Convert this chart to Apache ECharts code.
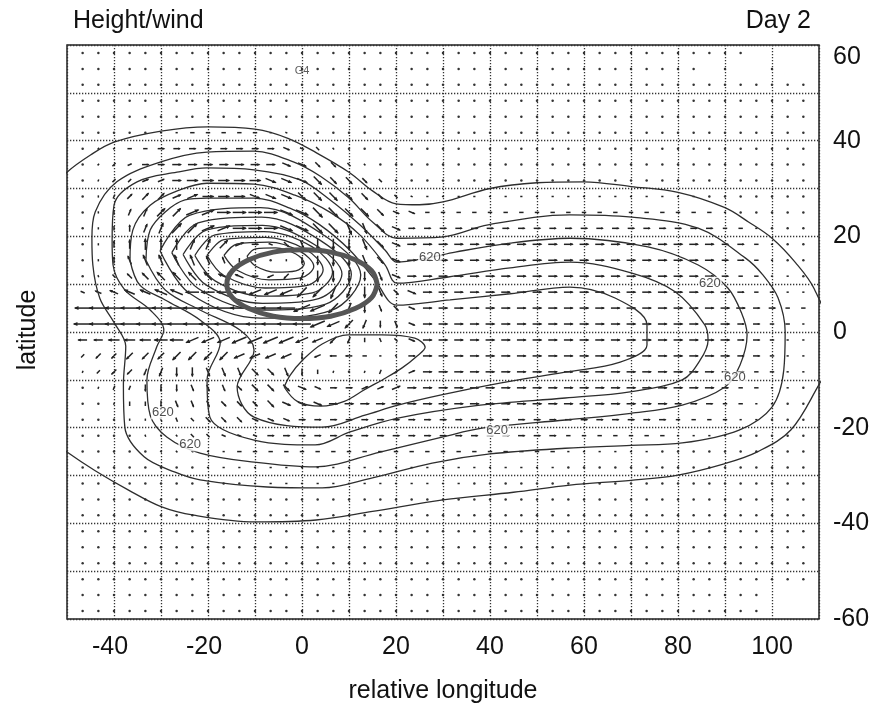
<!DOCTYPE html>
<html><head><meta charset="utf-8">
<script src="https://cdn.jsdelivr.net/npm/echarts@6/dist/echarts.min.js"></script>
<style>html,body{margin:0;padding:0;background:#fff}#c{width:880px;height:713px}</style>
</head><body><div id="c"></div>
<script>
// ---------------- data ----------------
const xTickLabels = [-40, -20, 0, 20, 40, 60, 80, 100];
const yTickLabels = [60, 40, 20, 0, -20, -40, -60];

// wind grid (degrees)
const lonGrid = [-46.67,-43.33,-40,-36.67,-33.33,-30,-26.67,-23.33,-20,-16.67,-13.33,-10,-6.67,-3.33,0,3.33,6.67,10,13.33,16.67,20,23.33,26.67,30,33.33,36.67,40,43.33,46.67,50,53.33,56.67,60,63.33,66.67,70,73.33,76.67,80,83.33,86.67,90,93.33,96.67,100,103.33,106.67];
const latGrid = [58.33,55,51.67,48.33,45,41.67,38.33,35,31.67,28.33,25,21.67,18.33,15,11.67,8.33,5,1.67,-1.67,-5,-8.33,-11.67,-15,-18.33,-21.67,-25,-28.33,-31.67,-35,-38.33,-41.67,-45,-48.33,-51.67,-55,-58.33];

// each token: direction (hex, 16 compass steps from east, counter-clockwise) + strength digit
// '..' calm (dot), '--' nothing drawn, 'tok*n' = n repeats
const windRows = [
 '..*43 --*4',
 '..*40 -- .. -- -- .. -- --',
 '..*47',
 '..*47',
 '..*47',
 '..*5 01 01 02 02 02 02 02 01 f1 ..*33',
 '.. 21 11 02 02 03 03 03 03 03 03 03 03 f3 f2 e2 e1 ..*30',
 '.. 21 22 12 03 03 04 04 04 04 04 04 04 f4 f4 e3 e3 e2 e1 ..*28',
 '.. 31 22 22 13 13 04 05 05 05 05 05 f5 f5 f5 e5 e4 e4 e3 e2 ..*27',
 '.. 41 32 23 24 24 14 15 05 05 05 f5 f5 f5 e5 e5 e5 e4 e4 e3 e2 f1 01*18 ..*7',
 '.. 41 42 33 34 25 25 16 16 06 06 06 06 f6 f6 e6 e6 e5 e5 e4 f3 f3 02*19 01 ..*5',
 '.. 41 42 43 34 35 26 26 16 16 06 06 06 f6 f6 e6 e6 d6 d5 e5 f4 03*20 02 02 01 ..*3',
 '.. 41 43 44 45 45 45 35 35 25 14 03 f2 e3 d4 c5 c5 c5 d5 e4 f4 04*20 03 03 02 01 .. ..',
 '.. 41 43 54 55 55 55 55 54 53 42 41 .. c1 c3 c4 c5 c5 d5 e4 f4 04*20 03 03 02 01 .. ..',
 '.. 51 62 63 64 65 65 65 65 75 74 83 93 a3 b4 c5 c5 c5 c4 d4 f4 04*20 03 02 02 01 01 ..',
 '72 73 74 75 75 76 76 86 86 86 86 96 96 96 a6 a6 b6 b5 c5 d4 e3 f4 04*19 04 03 02 02 01 01',
 '87 88 88 88 88 88 88 88 88 88 88 88 88 88 98 97 a6 b5 c4 d3 e3 f3 04*19 04 04 03 03 02 02',
 '88*15 97 96 a5 b4 c3 d3 f3 04*19 04 03 03 02 02 01',
 '84 84 85 85 85 86 86 96 96 96 97 97 97 97 96 95 a4 b3 c2 d2 e2 f3 04*19 04 03 03 02 01 01',
 'a2 a3 a3 a4 a4 a4 a5 a5 a5 a5 95 95 95 95 c3 93 83 83 82 81 e1 03 04*19 04 03 03 02 01 01',
 'b1 a2 a3 a3 b3 b4 c4 c4 d4 d4 d4 e4 e4 d4 c3 c2 b1 .. 31 32 22 13 04*19 03 03 02 02 01 01',
 '.. b1 b2 b2 c3 c3 c3 d3 d3 d3 e3 e4 e4 e4 f4 f3 03 03 13 13 14 04 04*19 03 02 02 01 01 ..',
 '.. .. b1 c2 c2 c3 d3 d3 d3 e3 e3 e3 e4 f4 f4 f4 04 04 04 04 04 04 04*16 03 03 03 02 02 01 01 .. ..',
 '.. .. .. c1 c1 d2 d2 e2 e3 e3 e3 f3 f3 f3 03 03 03 03 03 03 03 03 03*16 02 02 02 02 01 01 .. .. ..',
 '.. .. .. .. d1 d1 e1 e2 e2 f2 f2 f2 03 03 03 03 03 03 03 03 03 03 03*9 02*7 01*4 ..*5',
 '..*5 e1 e1 f1 f1 01 02 02 02*19 01*6 ..*10',
 '..*8 01*23 ..*16',
 '..*11 01*14 ..*22',
 '..*47','..*47','..*47','..*47','..*47','..*47',
 '..*44 --*3',
 '..*44 --*3'
];

// height contours (lon, lat)
const contour1 = [[-54,29],[-50,33.4],[-45,37],[-40,39.7],[-30,42],[-20,42.9],[-10,42.4],[-3,40.5],[3,37.5],[10,33.4],[15,29.5],[20,26.8],[25,26.6],[30,27.2],[40,30],[50,31.2],[60,31.4],[70,30.4],[80,29.2],[90,26],[95,23],[100,19.6],[105,14.5],[109,9],[112,0],[111.5,-8],[110,-11],[104,-20.5],[97,-25],[90,-27.5],[80,-29.9],[70,-31],[57,-32],[45,-33.5],[30,-35.1],[15,-37.5],[3,-39.3],[-10,-39.7],[-23,-38.3],[-30,-36.5],[-37,-33],[-44,-29],[-50,-25.1],[-54,-22]];
const contour2 = [[-44.7,19.6],[-44.5,14],[-43,7],[-40,2],[-37.5,-3],[-38,-11],[-37.7,-19.9],[-33.6,-26.1],[-27,-29.3],[-21.7,-30.9],[-7.4,-32.4],[4.3,-32.6],[15,-30.5],[27.7,-27.4],[40,-25.5],[56,-24.3],[70,-23.7],[80.9,-23.2],[93,-20.5],[100,-15.7],[102.5,-8],[102.8,0],[101.3,7.1],[98,12],[94.3,15.5],[84.3,21.7],[70.2,24],[57,24.5],[39.6,22.4],[30,19.9],[20.2,19.6],[15,23],[10,28],[4,32.5],[-1.7,35.5],[-10.2,37.8],[-20.2,37.6],[-30.2,35.5],[-39.4,31.4],[-44,25.1],[-44.7,19.6]];
const contour3 = [[-40.4,19],[-40.2,14],[-37.7,8.8],[-32.3,4.6],[-29.4,0.4],[-30.9,-3.1],[-33,-10],[-32.3,-17.4],[-28.7,-22],[-21.7,-25.3],[-10.2,-27.2],[2.8,-28.2],[16.6,-25.1],[29.8,-22],[38.3,-20.1],[56,-18.4],[70,-17],[80.9,-15.3],[90,-11.5],[93.2,-6.9],[94.7,-0.6],[93.5,4],[90.6,9.2],[84.3,14],[73.6,17.8],[57,19.6],[44.3,18.6],[32.6,16.7],[26.8,15.5],[20.2,14.6],[17.7,17.1],[12.3,22.4],[6,27.6],[-0.4,31.8],[-10.2,33.9],[-20.2,34.3],[-26.6,33.4],[-35.1,31.4],[-40,26.5],[-40.4,19]];
const contour4 = [[-36.6,15],[-34.5,9.8],[-29.1,6.7],[-21.7,2.5],[-17.4,-2.3],[-20.2,-10],[-19.6,-17.8],[-10.2,-22.6],[2.8,-23.6],[10.2,-20.9],[20.4,-18],[37.9,-15.3],[56,-13.8],[69.8,-12.5],[80.9,-10],[84.7,-5.9],[86.4,-1.7],[85.7,1.5],[79.4,8.4],[70.2,12.3],[57,14.6],[44.3,13.4],[31.1,11.5],[20.2,10.2],[17.7,14],[12.3,20.3],[6,25],[-1.5,28.6],[-10.2,30.9],[-20.2,31.1],[-26,29.7],[-32.3,26.5],[-36,21.3],[-36.6,15]];
const contour5 = [[-33.2,15],[-29.1,8.8],[-21.7,4.6],[-13.2,0.4],[-10.2,-3.8],[-13.8,-11.5],[-10.2,-17.8],[4.3,-19.9],[13.4,-17.4],[20.4,-15.3],[29.4,-13.2],[42.1,-10.7],[56,-8.4],[67.7,-6.3],[73.4,-2.7],[73.4,1.5],[66.6,7.1],[57,9.4],[44.3,8],[31.5,6.7],[20.2,5.6],[15.5,10.9],[10.2,17.1],[3.8,22.4],[-2.6,25.9],[-10.2,28],[-20.2,28],[-24.9,27.6],[-29.1,25.1],[-32.3,21.3],[-33.2,15]];
const contour6 = [[-30.2,17],[-23.95,8.1],[-8.85,2.9],[6.25,4.5],[12.5,11.9],[5,20],[-8.85,26],[-23.95,24.4],[-30.2,17]];
const contour7 = [[-27.7,16.6],[-22.1,9.1],[-8.6,4.6],[4.9,5.8],[10.5,12],[3.8,19.2],[-8.6,24],[-22.1,22.8],[-27.7,16.6]];
const contour8 = [[-25.3,16.2],[-20.35,9.8],[-8.4,6],[3.55,7],[8.5,12.1],[2.8,18.2],[-8.4,22.3],[-20.35,21.3],[-25.3,16.2]];
const contour9 = [[-22.8,16],[-18.5,10.7],[-8.15,7.5],[2.2,8.2],[6.5,12.5],[2.2,17.8],[-8.15,21],[-18.5,20.3],[-22.8,16]];
const contour10 = [[-20.2,16],[-16.6,11.8],[-7.85,9.2],[0.9,9.7],[4.5,13],[0.9,17.2],[-7.85,19.8],[-16.6,19.3],[-20.2,16]];
const contour11 = [[-16.6,16],[-13.8,12.9],[-7.05,10.9],[-0.3,11.3],[2.5,13.7],[-0.3,16.8],[-7.05,18.8],[-13.8,18.4],[-16.6,16]];
const contour12 = [[-11.7,15.8],[-9.9,13.8],[-5.6,12.5],[-1.3,12.8],[0.5,14.3],[-1.3,16.3],[-5.6,17.6],[-9.9,17.4],[-11.7,15.8]];
const southLobe = [[-3.8,-11.5],[-1,-14.5],[4,-15.5],[9,-14.5],[13.4,-12],[18,-9.5],[21.3,-7.5],[24.5,-5],[26.2,-3.2],[24,-1.3],[17,-0.6],[9.8,-0.6],[4.3,-2.5],[0,-6],[-2.5,-9],[-3.8,-11.5]];

// heating region outline
const heatingRegion = [[16,10],[14.8,12.8],[11.3,15.1],[6.1,16.7],[0,17.2],[-6.1,16.7],[-11.3,15.1],[-14.8,12.8],[-16,10],[-14.8,7.2],[-11.3,4.9],[-6.1,3.3],[0,2.8],[6.1,3.3],[11.3,4.9],[14.8,7.2],[16,10]];

// contour labels
const contourLabels = [[27.2,15.5,'620'],[86.8,10.2,'620'],[92.1,-9.6,'620'],[41.5,-20.5,'620'],[-29.6,-16.9,'620'],[-23.8,-23.6,'620']];
const markLabels = [[0,54.6,'G4']];

// ---------------- build ----------------
const FONT = '"Liberation Sans", Arial, Helvetica, sans-serif';
const VEC_SCALE = 0.47;
function expandRow(s){
  const out = [];
  s.trim().split(/\s+/).forEach(t => {
    const m = t.split('*');
    const n = m.length > 1 ? parseInt(m[1], 10) : 1;
    for (let i = 0; i < n; i++) out.push(m[0]);
  });
  return out;
}
const windData = [];
windRows.forEach((row, j) => {
  const toks = expandRow(row);
  if (toks.length !== lonGrid.length) console.warn('row', j, toks.length);
  toks.forEach((t, i) => {
    if (t === '--') return;
    if (t === '..') { windData.push([lonGrid[i], latGrid[j], 0, 0]); return; }
    const d = parseInt(t[0], 16), m = parseInt(t[1], 10);
    const a = d * Math.PI / 8;
    windData.push([lonGrid[i], latGrid[j], Math.cos(a) * m * VEC_SCALE, Math.sin(a) * m * VEC_SCALE]);
  });
});

const contours = [contour1, contour2, contour3, contour4, contour5, contour6, contour7, contour8, contour9, contour10, contour11, contour12, southLobe];

const chart = echarts.init(document.getElementById('c'), null, {renderer: 'canvas'});
const series = [];
series.push({
  type: 'custom', name: 'wind', coordinateSystem: 'cartesian2d', clip: true, silent: true, z: 2,
  data: windData, encode: {x: 0, y: 1},
  renderItem: function (params, api) {
    const x = api.value(0), y = api.value(1), u = api.value(2), v = api.value(3);
    if (u === 0 && v === 0) {
      const c = api.coord([x, y]);
      return {type: 'circle', shape: {cx: c[0], cy: c[1], r: 1.25}, style: {fill: '#333'}};
    }
    const a = api.coord([x - u / 2, y - v / 2]);
    const b = api.coord([x + u / 2, y + v / 2]);
    const dx = b[0] - a[0], dy = b[1] - a[1];
    const len = Math.sqrt(dx * dx + dy * dy) || 1;
    const ux = dx / len, uy = dy / len;
    const ch = [{type: 'line', shape: {x1: a[0], y1: a[1], x2: b[0], y2: b[1]}, style: {stroke: '#222', lineWidth: 1.5}}];
    if (len > 6) {
      const h = Math.min(3.6, len * 0.3), w = h * 0.55;
      ch.push({type: 'polygon', shape: {points: [[b[0] + ux, b[1] + uy], [b[0] - ux * h - uy * w, b[1] - uy * h + ux * w], [b[0] - ux * h + uy * w, b[1] - uy * h - ux * w]]}, style: {fill: '#222'}});
    }
    return {type: 'group', children: ch};
  }
});
contours.forEach((c) => {
  series.push({type: 'line', data: c, showSymbol: false, smooth: 0.35, silent: true, z: 3,
    lineStyle: {color: '#2e2e2e', width: 1.3}, clip: true});
});
series.push({type: 'line', data: heatingRegion, showSymbol: false, smooth: 0.4, silent: true, z: 4,
  lineStyle: {color: '#555', width: 5}});
series.push({type: 'scatter', data: contourLabels, symbolSize: 1, itemStyle: {color: 'transparent'}, silent: true, z: 5,
  label: {show: true, position: 'inside', formatter: p => p.value[2], fontSize: 13, fontFamily: FONT, color: '#222', backgroundColor: '#fff', padding: [0, 1]}});
series.push({type: 'scatter', data: markLabels, symbolSize: 1, itemStyle: {color: 'transparent'}, silent: true, z: 5,
  label: {show: true, position: 'inside', formatter: p => p.value[2], fontSize: 11, fontFamily: FONT, color: '#333'}});

const gridLine = {show: true, lineStyle: {color: '#333', width: 1.3, type: [1.3, 1.7]}};
chart.setOption({
  animation: false,
  backgroundColor: '#fff',
  title: [
    {text: 'Height/wind', left: 68, top: 4, textStyle: {fontSize: 25, fontWeight: 'normal', color: '#111', fontFamily: FONT}},
    {text: 'Day 2', right: 64, top: 4, textStyle: {fontSize: 25, fontWeight: 'normal', color: '#111', fontFamily: FONT}}
  ],
  graphic: [{type: 'text', x: 28, y: 330, rotation: Math.PI / 2,
    style: {text: 'latitude', fontSize: 25, fontFamily: FONT, fill: '#111', textAlign: 'center', textVerticalAlign: 'middle'}}],
  grid: {left: 67, right: 61, top: 45, bottom: 94, show: true, borderColor: '#222', borderWidth: 1.5, containLabel: false, outerBoundsMode: 'none'},
  xAxis: {type: 'value', min: -50, max: 110, interval: 10,
    axisLine: {show: false}, axisTick: {show: false}, splitLine: gridLine,
    axisLabel: {margin: 16, fontSize: 25, fontFamily: FONT, color: '#111',
      formatter: v => xTickLabels.indexOf(v) < 0 ? '' : (v < 0 ? '-' + (-v) + '{s| }' : String(v)),
      rich: {s: {width: 8, fontSize: 25}}},
    name: 'relative longitude', nameLocation: 'middle', nameGap: 60,
    nameTextStyle: {fontSize: 25, fontFamily: FONT, color: '#111'}},
  yAxis: {type: 'value', position: 'right', min: -60, max: 60, interval: 10,
    axisLine: {show: false}, axisTick: {show: false}, splitLine: gridLine,
    axisLabel: {margin: 14, fontSize: 25, fontFamily: FONT, color: '#111', verticalAlignMaxLabel: 'top',
      formatter: v => yTickLabels.indexOf(v) < 0 ? '' : String(v)}},
  series: series
});
</script>
</body></html>
